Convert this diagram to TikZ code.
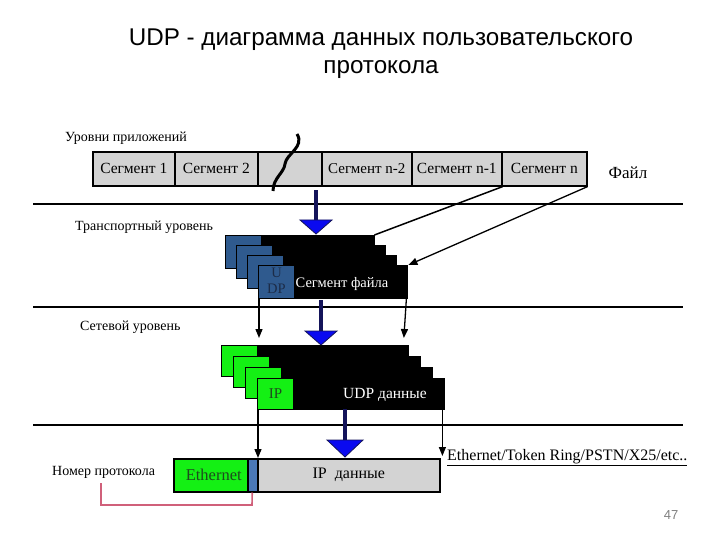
\documentclass[tikz,border=0pt]{standalone}
\usepackage{fontspec}
\setmainfont{Liberation Serif}
\newfontfamily\titlefont{Liberation Sans}
\usetikzlibrary{arrows.meta}
\definecolor{segGray}{HTML}{D3D3D3}
\definecolor{udpBlue}{HTML}{2F5A8E}
\definecolor{udpText}{HTML}{1C2C48}
\definecolor{ipGreen}{HTML}{14F014}
\definecolor{navy}{HTML}{14145A}
\definecolor{headBlue}{HTML}{0A0AF0}
\definecolor{pinkline}{HTML}{D0607A}
\definecolor{smallBlue}{HTML}{4A78B8}
\definecolor{ethText}{HTML}{1E4A1E}
\newcommand{\bluearrow}[5]{%
  \fill[navy] ({#1-2},#2) rectangle ({#1+2},#3);
  \filldraw[fill=headBlue, draw=navy, line width=0.8pt] ({#1-#5},#3) -- ({#1+#5},#3) -- (#1,#4) -- cycle;}
\tikzset{
  seg/.style={draw, line width=1.6pt, fill=segGray, minimum height=34pt, inner sep=0pt, anchor=north west, font=\fontsize{15.5}{17}\selectfont},
  lbl/.style={font=\fontsize{14}{16}\selectfont, inner sep=0pt},
  blk/.style={fill=black, draw=black, inner sep=0pt, anchor=north west},
  udpbox/.style={fill=udpBlue, draw=black, line width=1pt, inner sep=0pt, anchor=north west, minimum width=36pt, minimum height=33pt, text=udpText, font=\fontsize{14.5}{16}\selectfont},
  ipbox/.style={fill=ipGreen, draw=black, line width=1pt, inner sep=0pt, anchor=north west, minimum width=36pt, minimum height=31pt, text=ethText, font=\fontsize{15}{16}\selectfont},
  hline/.style={line width=1.8pt},
  arr/.style={line width=1.3pt, -{Triangle[length=9pt,width=7pt]}},
}
\begin{document}
\begin{tikzpicture}[x=1pt,y=-1pt]
\useasboundingbox (0,0) rectangle (720,540);
% title
\node[font=\titlefont\fontsize{24.2}{28}\selectfont] (title1) at (381,40) {UDP - диаграмма данных пользовательского};
\node[font=\titlefont\fontsize{24.2}{28}\selectfont] (title2) at (381,70) {протокола};
% level labels
\node[lbl, anchor=west] (appl) at (65,138) {Уровни приложений};
\node[lbl, anchor=west] (trl) at (75,227) {Транспортный уровень};
\node[lbl, anchor=west] (netl) at (80,327) {Сетевой уровень};
\node[lbl, anchor=west] (numl) at (52,472) {Номер протокола};
% file bar
\node[seg, minimum width=82pt] (s1) at (92,151) {Сегмент 1};
\node[seg, minimum width=83pt] (s2) at (174,151) {Сегмент 2};
\node[seg, minimum width=64pt] (sg) at (257,151) {};
\node[seg, minimum width=90pt, font=\fontsize{15}{15}\selectfont] (s3) at (321,151) {\raisebox{-4pt}{Сегмент n-2}};
\node[seg, minimum width=90pt] (s4) at (411,151) {Сегмент n-1};
\node[seg, minimum width=85pt] (s5) at (501,151) {Сегмент n};
\draw[line width=3pt] (297,134) .. controls (305,147) and (286,154) .. (285,164) .. controls (284,173) and (273,178) .. (273,191);
\node[font=\fontsize{17}{19}\selectfont] (file) at (628,173) {Файл};
% horizontal separators
\draw[hline] (33,204) -- (683,204);
\draw[hline] (33,307) -- (683,307);
\draw[hline] (33,425) -- (683,425);
% transport stack
\foreach \i in {0,...,2} {
  \node[blk, minimum width=149pt, minimum height=33pt] (t\i) at ({225+11*\i},{235+10*\i}) {};
  \node[udpbox] (u\i) at ({225+11*\i},{235+10*\i}) {};
}
\node[blk, minimum width=149pt, minimum height=33pt] (t3) at (258,265) {};
\node[udpbox] (u3) at (258,265) {\raisebox{-3pt}{\begin{tabular}{@{}c@{}}U\\[0pt]DP\end{tabular}}};
\node[text=white, inner sep=0pt, font=\fontsize{14.5}{17}\selectfont] (tseg) at (342,284) {Сегмент файла};
% network stack
\foreach \i in {0,...,2} {
  \node[blk, minimum width=187pt, minimum height=31pt] (n\i) at ({221+12*\i},{345+11*\i}) {};
  \node[ipbox] (p\i) at ({221+12*\i},{345+11*\i}) {};
}
\node[blk, minimum width=187pt, minimum height=31pt] (n3) at (257,378) {};
\node[ipbox] (p3) at (257,378) {IP};
\node[text=white, inner sep=0pt, font=\fontsize{15.5}{17}\selectfont] (udpd) at (385,395) {UDP данные};
% bottom frame
\node[draw, line width=1.5pt, fill=ipGreen, minimum width=74pt, minimum height=33pt, inner sep=0pt, anchor=north west, text=ethText, font=\fontsize{16.5}{17}\selectfont] (eth) at (173,458) {\hspace*{6pt}Ethernet};
\node[draw, line width=1.5pt, fill=smallBlue, minimum width=10pt, minimum height=33pt, inner sep=0pt, anchor=north west] (proto) at (247,458) {};
\node[draw, line width=1.5pt, fill=segGray, minimum width=182pt, minimum height=33pt, inner sep=0pt, anchor=north west, font=\fontsize{16}{17}\selectfont] (ipd) at (257,458) {IP\ \ данные};
\node[anchor=west, inner sep=0pt, font=\fontsize{16}{18}\selectfont] (media) at (447,458) {\underline{Ethernet/Token Ring/PSTN/X25/etc..}};
\node[text=gray, font=\titlefont\fontsize{13}{15}\selectfont] (pg) at (671,515) {47};
% blue arrows
\bluearrow{316}{190}{220}{234}{16}
\bluearrow{321}{300}{331}{345}{16}
\bluearrow{345}{409}{440}{457}{18}
% connectors
\draw[line width=1.5pt] (s4.south east) -- (t0.north east);
\draw[arr] (s5.south east) -- ([xshift=1pt]t3.north east);
\draw[arr, shorten >=7pt] ([xshift=1pt]t3.south west) -- ([xshift=1pt]t3.south west |- n0.north);
\draw[arr, shorten >=7pt] ([xshift=-1pt]t3.south east) -- ([xshift=-4pt]t3.south east |- n0.north);
\draw[arr] ([xshift=1pt]n3.south west) -- ([xshift=1pt]n3.south west |- ipd.north);
\draw[arr, shorten >=2pt] ([xshift=-2pt]n3.south east) -- ([xshift=-2pt]n3.south east |- ipd.north);
\draw[pinkline, line width=1.6pt] (101,483) |- (252,505) -- ([xshift=-0.5pt]proto.south);
\end{tikzpicture}
\end{document}
